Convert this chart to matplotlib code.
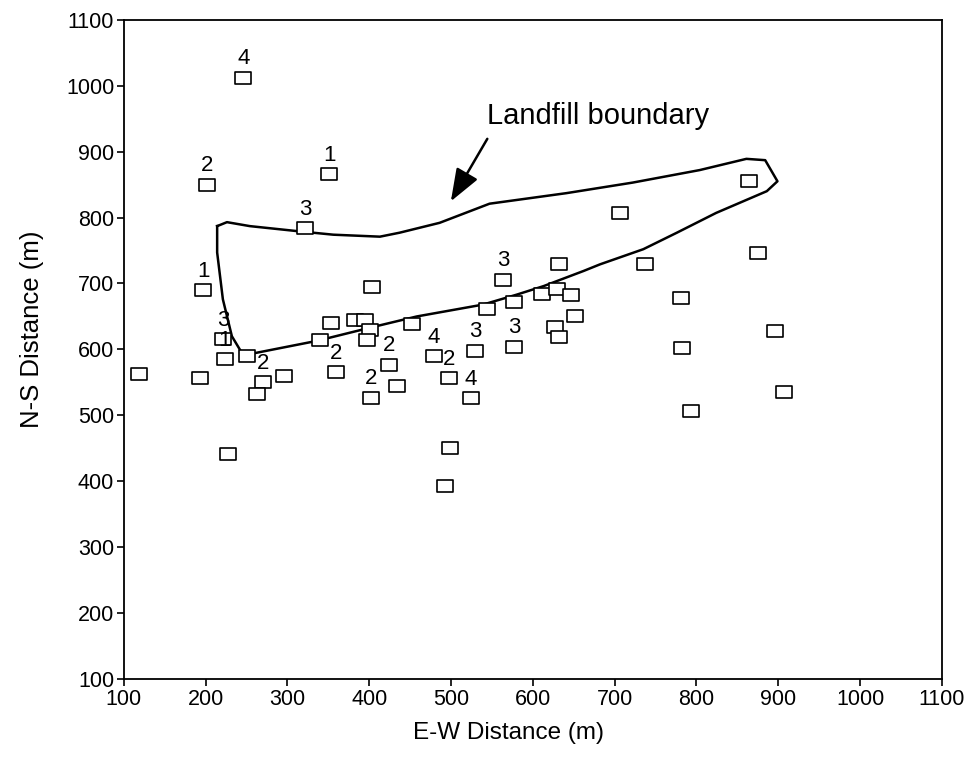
import matplotlib.pyplot as plt
from matplotlib.path import Path

plt.rcParams['font.family'] = ['Liberation Sans', 'DejaVu Sans']

# sample locations (E-W, N-S) in metres, and the number written above each one
ew = [246, 202, 351, 322, 197, 403, 221, 223, 119, 193,
      227, 251, 270, 263, 296, 353, 340, 382, 395, 401,
      397, 359, 424, 402, 434, 452, 479, 498, 529, 524,
      564, 544, 577, 577, 611, 630, 647, 632, 652, 627,
      632, 499, 492, 706, 737, 864, 875, 781, 896, 782,
      907, 793]
ns = [1012, 850, 866, 784, 690, 694, 616, 585, 562, 556,
      441, 590, 550, 532, 560, 640, 615, 645, 645, 629,
      614, 566, 577, 527, 545, 638, 590, 556, 598, 526,
      706, 662, 672, 604, 684, 691, 682, 729, 651, 634,
      619, 451, 393, 807, 730, 855, 746, 678, 628, 602,
      536, 506]
tags = ['4', '2', '1', '3', '1', '', '3', '1', '', '',
        '', '', '2', '', '', '', '', '', '', '',
        '', '2', '2', '2', '', '', '4', '2', '3', '4',
        '3', '', '', '3', '', '', '', '', '', '',
        '', '', '', '', '', '', '', '', '', '',
        '', '']

# landfill outline
bound_x = [214, 226, 254, 315, 356, 413, 437, 486, 547, 641, 722, 804, 861, 884,
           899, 886, 824, 776, 735, 682, 662, 613, 580, 539, 458, 401, 336, 246,
           232, 221, 214, 214]
bound_y = [787, 793, 787, 779, 774, 771, 777, 792, 821, 837, 853, 872, 889, 887,
           855, 840, 807, 777, 752, 729, 719, 696, 683, 668, 650, 633, 613, 591,
           620, 676, 747, 787]

ticks = list(range(100, 1101, 100))

box = Path([(-1, -0.75), (1, -0.75), (1, 0.75), (-1, 0.75), (-1, -0.75)],
           [Path.MOVETO, Path.LINETO, Path.LINETO, Path.LINETO, Path.CLOSEPOLY])

fig = plt.figure(figsize=(9.68, 7.58), dpi=100)
ax = fig.add_axes([0.128, 0.104, 0.845, 0.870])

ax.plot(bound_x, bound_y, color='black', lw=1.8)
ax.plot(ew, ns, linestyle='none', marker=box, markersize=11.5,
        markerfacecolor='white', markeredgecolor='black', markeredgewidth=1.2)

for x, y, t in zip(ew, ns, tags):
    if t:
        ax.annotate(t, (x, y), xytext=(0, 6), textcoords='offset points',
                    ha='center', va='bottom', fontsize=16)

ax.annotate('', xy=(498, 821), xytext=(546, 923),
            arrowprops=dict(arrowstyle='-|>,head_length=2.0,head_width=0.75',
                            color='black', lw=1.8))
ax.text(680, 954, 'Landfill boundary', ha='center', va='center', fontsize=21)

ax.set_xlim(100, 1100)
ax.set_ylim(100, 1100)
ax.set_xticks(ticks)
ax.set_yticks(ticks)
ax.tick_params(direction='out', length=5, width=1.2, labelsize=15.5, pad=2)
for s in ax.spines.values():
    s.set_linewidth(1.3)

ax.set_xlabel('E-W Distance (m)', fontsize=17.5)
ax.set_ylabel('N-S Distance (m)', fontsize=18.5)
ax.xaxis.set_label_coords(0.47, -0.065)
ax.yaxis.set_label_coords(-0.098, 0.53)

fig.savefig('out.png', dpi=100)
